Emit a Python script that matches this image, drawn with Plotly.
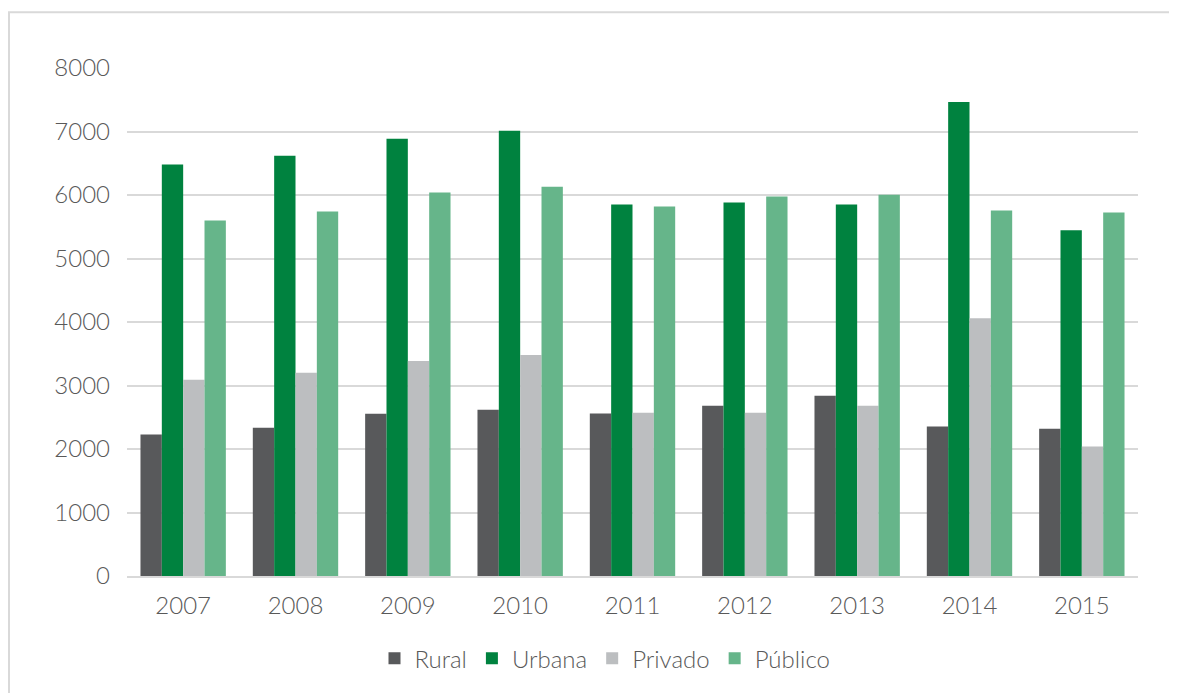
import plotly.graph_objects as go

years = ["2007", "2008", "2009", "2010", "2011", "2012", "2013", "2014", "2015"]
rural = [2230, 2335, 2555, 2620, 2560, 2680, 2840, 2355, 2320]
urbana = [6480, 6620, 6885, 7010, 5850, 5880, 5850, 7465, 5445]
privado = [3090, 3200, 3385, 3480, 2570, 2570, 2680, 4060, 2040]
publico = [5600, 5740, 6040, 6130, 5820, 5975, 6005, 5755, 5725]

series = [
    ("Rural", rural, "#58595b"),
    ("Urbana", urbana, "#00823f"),
    ("Privado", privado, "#bcbec0"),
    ("Público", publico, "#66b58a"),
]

fig = go.Figure()
for name, vals, color in series:
    fig.add_trace(go.Bar(x=years, y=vals, name=name, marker_color=color,
                         marker_line_width=0))

# page body has an 8px margin; figure coordinates = screen - 8
OFF = 8
W, H = 1169, 685
L, R, T, B = 119, 39, 60, 115
pw, ph = W - L - R, H - T - B

def px2x(sx):
    return (sx - OFF - L) / pw

def py2y(sy):
    return (H - B - (sy - OFF)) / ph

FONT = "Lato, Open Sans, sans-serif"
TXT = "#595959"

fig.update_layout(
    width=W, height=H,
    margin=dict(l=L, r=R, t=T, b=B),
    paper_bgcolor="white", plot_bgcolor="white",
    barmode="group", bargap=0.24, bargroupgap=0,
    font=dict(family=FONT, size=24, color=TXT, weight=300),
    showlegend=True,
    legend=dict(orientation="h", x=px2x(605), xanchor="center", y=py2y(661), yanchor="middle",
                font=dict(family=FONT, size=24, color=TXT, weight=300), traceorder="normal",
                itemwidth=30),
    xaxis=dict(showgrid=False, showline=True, linecolor="#d9d9d9", linewidth=2,
               ticks="", tickfont=dict(family=FONT, size=24, color=TXT, weight=300),
               ticklabelstandoff=7),
    yaxis=dict(range=[0, 8000], dtick=1000, showgrid=True, gridcolor="#d9d9d9",
               gridwidth=2, zeroline=False, showline=False, ticks="",
               tickfont=dict(family=FONT, size=24, color=TXT, weight=300),
               ticklabelstandoff=16),
    shapes=[
        dict(type="line", xref="paper", yref="paper",
             x0=px2x(8), x1=px2x(1200), y0=py2y(12), y1=py2y(12),
             line=dict(color="#d9d9d9", width=2)),
        dict(type="line", xref="paper", yref="paper",
             x0=px2x(9), x1=px2x(9), y0=py2y(12), y1=py2y(720),
             line=dict(color="#d9d9d9", width=2)),
    ],
)

fig.write_html("out.html")
